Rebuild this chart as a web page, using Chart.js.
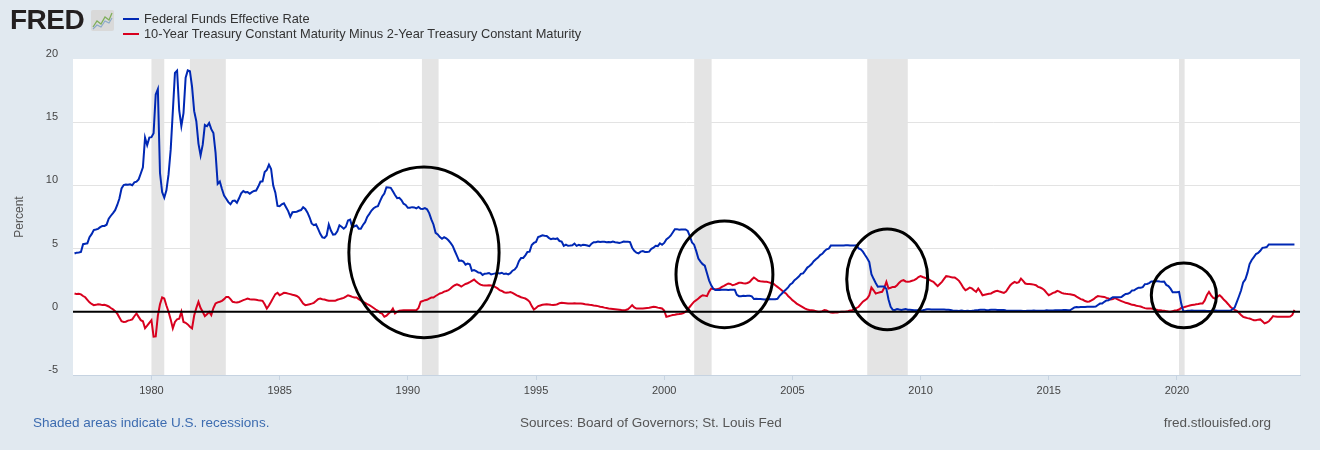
<!DOCTYPE html>
<html>
<head>
<meta charset="utf-8">
<script src="https://cdn.jsdelivr.net/npm/chart.js@4"></script>
<style>
  html, body { margin: 0; padding: 0; }
  body { width: 1320px; height: 450px; background: #e1e9f0; position: relative; overflow: hidden;
         font-family: "Liberation Sans", Arial, sans-serif; }
  #c { position: absolute; left: 0; top: 0; }
  .logo { position: absolute; left: 10px; top: 4px; font: bold 28px "Liberation Sans", Arial, sans-serif;
          color: #231f20; letter-spacing: -0.5px; }
  .icon { position: absolute; left: 91px; top: 10px; }
  .leg { position: absolute; left: 123px; font-size: 12.8px; color: #333; white-space: nowrap; }
  .leg i { display: inline-block; width: 16px; height: 2px; vertical-align: middle; margin-right: 5px; position: relative; top: -1px; }
  .foot { position: absolute; top: 415px; font-size: 13.5px; white-space: nowrap; }
</style>
</head>
<body>
<canvas id="c" width="1320" height="450"></canvas>
<div class="logo">FRED</div>
<svg class="icon" width="23" height="21" viewBox="0 0 23 21">
  <rect x="0" y="0" width="23" height="21" rx="2" fill="#d9d9d9"/>
  <polyline points="2,17 6,11 10,14 14,7 18,10 21,3" fill="none" stroke="#7fae5a" stroke-width="1.3"/>
  <polyline points="2,19 6,15 10,17 14,11 18,13 21,8" fill="none" stroke="#8aa9c9" stroke-width="1.1"/>
</svg>
<div class="leg" style="top:11px"><i style="background:#0028b4"></i>Federal Funds Effective Rate</div>
<div class="leg" style="top:26px"><i style="background:#d8001e"></i>10-Year Treasury Constant Maturity Minus 2-Year Treasury Constant Maturity</div>
<div class="foot" style="left:33px;color:#3d6cb0">Shaded areas indicate U.S. recessions.</div>
<div class="foot" style="left:520px;color:#555">Sources: Board of Governors; St. Louis Fed</div>
<div class="foot" style="right:49px;color:#555">fred.stlouisfed.org</div>
<script>
// monthly observations, January 1977 to August 2024
const startYear = 1977;

const fedFunds = [
  4.61, 4.68, 4.69, 4.73, 5.35, 5.39, 5.42, 5.90, 6.14, 6.47, 6.51, 6.56, // 1977
  6.70, 6.78, 6.79, 6.89, 7.36, 7.60, 7.81, 8.04, 8.45, 8.96, 9.76, 10.03,
  10.07, 10.06, 10.09, 10.01, 10.24, 10.29, 10.47, 10.94, 11.43, 13.77, 13.18, 13.78,
  13.82, 14.13, 17.19, 17.61, 10.98, 9.47, 9.03, 9.61, 10.87, 12.81, 15.85, 18.90, // 1980
  19.08, 15.93, 14.70, 15.72, 18.52, 19.10, 19.04, 17.82, 15.87, 15.08, 13.31, 12.37,
  13.22, 14.78, 14.68, 14.94, 14.45, 14.15, 12.59, 10.12, 10.31, 9.71, 9.20, 8.95,
  8.68, 8.51, 8.77, 8.80, 8.63, 8.98, 9.37, 9.56, 9.45, 9.48, 9.34, 9.47,
  9.56, 9.59, 9.91, 10.29, 10.32, 11.06, 11.23, 11.64, 11.30, 9.99, 9.43, 8.38,
  8.35, 8.50, 8.58, 8.27, 7.97, 7.53, 7.88, 7.90, 7.92, 7.99, 8.05, 8.27, // 1985
  8.14, 7.86, 7.48, 6.99, 6.85, 6.92, 6.56, 6.17, 5.89, 5.85, 6.04, 6.91,
  6.43, 6.10, 6.13, 6.37, 6.85, 6.73, 6.58, 6.73, 7.22, 7.29, 6.69, 6.77,
  6.83, 6.58, 6.58, 6.87, 7.09, 7.51, 7.75, 8.01, 8.19, 8.30, 8.35, 8.76,
  9.12, 9.36, 9.85, 9.84, 9.81, 9.53, 9.24, 8.99, 9.02, 8.84, 8.55, 8.45,
  8.23, 8.24, 8.28, 8.26, 8.18, 8.29, 8.15, 8.13, 8.20, 8.11, 7.81, 7.31, // 1990
  6.91, 6.25, 6.12, 5.91, 5.78, 5.90, 5.82, 5.66, 5.45, 5.21, 4.81, 4.43,
  4.03, 4.06, 3.98, 3.73, 3.82, 3.76, 3.25, 3.30, 3.22, 3.10, 3.09, 2.92,
  3.02, 3.03, 3.07, 2.96, 3.00, 3.04, 3.06, 3.03, 3.09, 2.99, 3.02, 2.96,
  3.05, 3.25, 3.34, 3.56, 4.01, 4.25, 4.26, 4.47, 4.73, 4.76, 5.29, 5.45,
  5.53, 5.92, 5.98, 6.05, 6.01, 6.00, 5.85, 5.74, 5.80, 5.76, 5.80, 5.60, // 1995
  5.56, 5.22, 5.31, 5.22, 5.24, 5.27, 5.40, 5.22, 5.30, 5.24, 5.31, 5.29,
  5.25, 5.19, 5.39, 5.51, 5.50, 5.56, 5.52, 5.54, 5.54, 5.50, 5.52, 5.50,
  5.56, 5.51, 5.49, 5.45, 5.49, 5.56, 5.54, 5.55, 5.51, 5.07, 4.83, 4.68,
  4.63, 4.76, 4.81, 4.74, 4.74, 4.76, 4.99, 5.07, 5.22, 5.20, 5.42, 5.30,
  5.45, 5.73, 5.85, 6.02, 6.27, 6.53, 6.54, 6.50, 6.52, 6.51, 6.51, 6.40, // 2000
  5.98, 5.49, 5.31, 4.80, 4.21, 3.97, 3.77, 3.65, 3.07, 2.49, 2.09, 1.82,
  1.73, 1.74, 1.73, 1.75, 1.75, 1.75, 1.73, 1.74, 1.75, 1.75, 1.34, 1.24,
  1.24, 1.26, 1.25, 1.26, 1.26, 1.22, 1.01, 1.03, 1.01, 1.01, 1.00, 0.98,
  1.00, 1.01, 1.00, 1.00, 1.00, 1.03, 1.26, 1.43, 1.61, 1.76, 1.93, 2.16,
  2.28, 2.50, 2.63, 2.79, 3.00, 3.04, 3.26, 3.50, 3.62, 3.78, 4.00, 4.16, // 2005
  4.29, 4.49, 4.59, 4.79, 4.94, 4.99, 5.24, 5.25, 5.25, 5.25, 5.25, 5.24,
  5.25, 5.26, 5.26, 5.25, 5.25, 5.25, 5.26, 5.02, 4.94, 4.76, 4.49, 4.24,
  3.94, 2.98, 2.61, 2.28, 1.98, 2.00, 2.01, 2.00, 1.81, 0.97, 0.39, 0.16,
  0.15, 0.22, 0.18, 0.15, 0.18, 0.21, 0.16, 0.16, 0.15, 0.12, 0.12, 0.12,
  0.11, 0.13, 0.16, 0.20, 0.20, 0.18, 0.18, 0.19, 0.19, 0.19, 0.19, 0.18, // 2010
  0.17, 0.16, 0.14, 0.10, 0.09, 0.09, 0.07, 0.10, 0.08, 0.07, 0.08, 0.07,
  0.08, 0.10, 0.13, 0.14, 0.16, 0.16, 0.16, 0.13, 0.14, 0.16, 0.16, 0.16,
  0.14, 0.15, 0.14, 0.15, 0.11, 0.09, 0.09, 0.08, 0.08, 0.09, 0.08, 0.09,
  0.07, 0.07, 0.08, 0.09, 0.09, 0.10, 0.09, 0.09, 0.09, 0.09, 0.09, 0.12,
  0.11, 0.11, 0.11, 0.12, 0.12, 0.13, 0.13, 0.14, 0.14, 0.12, 0.12, 0.24, // 2015
  0.34, 0.38, 0.36, 0.37, 0.37, 0.38, 0.39, 0.40, 0.40, 0.40, 0.41, 0.54,
  0.65, 0.66, 0.79, 0.90, 0.91, 1.04, 1.15, 1.16, 1.15, 1.15, 1.16, 1.30,
  1.41, 1.42, 1.51, 1.69, 1.70, 1.82, 1.91, 1.91, 1.95, 2.19, 2.20, 2.27,
  2.40, 2.40, 2.41, 2.42, 2.39, 2.38, 2.40, 2.13, 2.04, 1.83, 1.55, 1.55,
  1.55, 1.58, 0.65, 0.05, 0.05, 0.08, 0.09, 0.10, 0.09, 0.09, 0.09, 0.09, // 2020
  0.09, 0.08, 0.07, 0.07, 0.06, 0.08, 0.10, 0.09, 0.08, 0.08, 0.08, 0.08,
  0.08, 0.08, 0.20, 0.33, 0.77, 1.21, 1.68, 2.33, 2.56, 3.08, 3.78, 4.10,
  4.33, 4.57, 4.65, 4.83, 5.06, 5.08, 5.12, 5.33, 5.33, 5.33, 5.33, 5.33,
  5.33, 5.33, 5.33, 5.33, 5.33, 5.33, 5.33, 5.33
];

const spread10y2y = [
  1.45, 1.40, 1.42, 1.38, 1.25, 1.15, 0.95, 0.75, 0.62, 0.52, 0.55, 0.60, // 1977
  0.58, 0.53, 0.55, 0.50, 0.42, 0.30, 0.20, 0.05, -0.15, -0.45, -0.75, -0.80,
  -0.78, -0.70, -0.66, -0.60, -0.35, -0.13, -0.40, -0.66, -0.75, -1.30, -1.10, -0.87,
  -0.66, -1.97, -1.95, -0.30, 0.60, 1.13, 1.05, 0.50, 0.00, -0.60, -1.31, -0.80, // 1980
  -0.60, -0.55, 0.00, -0.80, -0.87, -1.00, -1.18, -1.31, -0.30, 0.30, 0.79, 0.30,
  0.00, -0.34, -0.20, 0.00, -0.26, 0.30, 0.66, 0.75, 0.80, 0.87, 1.00, 1.18,
  1.18, 1.00, 0.79, 0.75, 0.73, 0.78, 0.85, 0.92, 0.98, 1.05, 1.00, 0.97,
  0.97, 0.95, 0.92, 0.90, 0.87, 0.60, 0.26, 0.50, 0.79, 1.10, 1.40, 1.50,
  1.31, 1.40, 1.50, 1.48, 1.44, 1.40, 1.35, 1.31, 1.25, 1.13, 0.90, 0.65, // 1985
  0.53, 0.56, 0.60, 0.65, 0.71, 0.85, 1.00, 1.05, 1.00, 0.97, 0.92, 0.87,
  0.87, 0.87, 0.87, 0.95, 1.00, 1.05, 1.10, 1.20, 1.31, 1.25, 1.18, 1.13,
  1.13, 1.00, 0.90, 0.79, 0.70, 0.60, 0.53, 0.42, 0.30, 0.18, 0.08, -0.08,
  -0.15, -0.39, -0.30, -0.13, 0.00, 0.26, -0.13, 0.00, 0.08, 0.10, 0.12, 0.13,
  0.13, 0.13, 0.12, 0.13, 0.13, 0.30, 0.79, 0.85, 0.92, 0.95, 1.05, 1.13, // 1990
  1.13, 1.25, 1.35, 1.45, 1.50, 1.60, 1.65, 1.71, 1.85, 2.00, 2.10, 2.18,
  2.10, 2.00, 2.10, 2.20, 2.26, 2.35, 2.45, 2.55, 2.40, 2.26, 2.15, 2.10,
  2.08, 2.08, 2.10, 2.08, 2.05, 1.95, 1.85, 1.71, 1.65, 1.55, 1.50, 1.52,
  1.57, 1.50, 1.40, 1.30, 1.23, 1.15, 1.10, 1.05, 0.95, 0.79, 0.45, 0.18,
  0.30, 0.45, 0.50, 0.55, 0.58, 0.60, 0.58, 0.55, 0.53, 0.55, 0.60, 0.68, // 1995
  0.71, 0.70, 0.68, 0.66, 0.66, 0.66, 0.67, 0.66, 0.66, 0.66, 0.64, 0.60,
  0.58, 0.55, 0.53, 0.50, 0.48, 0.45, 0.40, 0.38, 0.33, 0.30, 0.26, 0.24,
  0.22, 0.20, 0.18, 0.16, 0.14, 0.13, 0.14, 0.20, 0.35, 0.53, 0.35, 0.26,
  0.26, 0.26, 0.26, 0.28, 0.30, 0.32, 0.36, 0.40, 0.38, 0.33, 0.30, 0.26,
  0.10, -0.39, -0.35, -0.30, -0.26, -0.24, -0.20, -0.18, -0.15, -0.10, 0.00, 0.20, // 2000
  0.40, 0.60, 0.80, 0.92, 1.05, 1.20, 1.31, 1.28, 1.24, 1.60, 1.84, 1.80,
  1.76, 1.80, 1.85, 1.97, 2.05, 2.15, 2.24, 2.20, 2.10, 2.15, 2.22, 2.30,
  2.30, 2.26, 2.24, 2.28, 2.37, 2.55, 2.71, 2.60, 2.45, 2.42, 2.40, 2.37,
  2.37, 2.33, 2.28, 2.24, 2.10, 1.97, 1.84, 1.70, 1.55, 1.45, 1.25, 1.10,
  0.92, 0.80, 0.65, 0.55, 0.45, 0.35, 0.25, 0.18, 0.15, 0.13, 0.10, 0.05, // 2005
  0.00, 0.00, 0.05, 0.13, 0.10, 0.00, -0.05, -0.08, -0.06, -0.05, -0.02, 0.00,
  0.00, 0.02, 0.05, 0.10, 0.13, 0.20, 0.30, 0.40, 0.60, 0.80, 0.92, 1.05,
  1.30, 1.92, 1.70, 1.45, 1.50, 1.55, 1.58, 1.90, 2.37, 1.84, 1.90, 1.97,
  1.97, 2.10, 2.30, 2.45, 2.50, 2.40, 2.37, 2.40, 2.45, 2.50, 2.60, 2.75,
  2.82, 2.75, 2.70, 2.63, 2.55, 2.45, 2.37, 2.20, 2.03, 2.20, 2.37, 2.60, // 2010
  2.82, 2.80, 2.75, 2.72, 2.71, 2.60, 2.45, 2.20, 1.90, 1.71, 1.80, 1.92,
  1.85, 1.70, 1.58, 1.84, 1.60, 1.31, 1.35, 1.39, 1.42, 1.45, 1.55, 1.62,
  1.66, 1.60, 1.55, 1.50, 1.60, 1.85, 2.10, 2.25, 2.37, 2.29, 2.35, 2.63,
  2.45, 2.24, 2.20, 2.20, 2.18, 2.15, 2.10, 1.97, 1.92, 1.84, 1.70, 1.50,
  1.31, 1.40, 1.50, 1.55, 1.66, 1.60, 1.50, 1.45, 1.42, 1.40, 1.39, 1.35, // 2015
  1.31, 1.20, 1.10, 1.00, 0.95, 0.85, 0.79, 0.82, 0.90, 1.00, 1.15, 1.24,
  1.22, 1.20, 1.18, 1.10, 1.05, 0.97, 1.00, 1.10, 1.00, 0.92, 0.85, 0.78,
  0.71, 0.68, 0.62, 0.55, 0.53, 0.48, 0.45, 0.42, 0.35, 0.29, 0.27, 0.26,
  0.26, 0.22, 0.18, 0.15, 0.13, 0.10, 0.08, 0.05, 0.02, 0.00, 0.05, 0.10,
  0.13, 0.18, 0.30, 0.35, 0.40, 0.45, 0.50, 0.53, 0.55, 0.60, 0.62, 0.66, // 2020
  0.66, 0.90, 1.31, 1.58, 1.30, 1.10, 1.05, 1.20, 1.31, 1.15, 0.95, 0.79,
  0.60, 0.40, 0.26, 0.15, 0.08, -0.08, -0.25, -0.40, -0.45, -0.50, -0.53, -0.60,
  -0.66, -0.66, -0.62, -0.60, -0.75, -0.92, -0.85, -0.75, -0.55, -0.34, -0.38, -0.40,
  -0.40, -0.40, -0.40, -0.40, -0.40, -0.38, -0.25, 0.15
];

// NBER recessions as [start, end] in fractional years
const recessions = [[1980.0, 1980.5], [1981.5, 1982.9], [1990.55, 1991.2],
                    [2001.17, 2001.85], [2007.92, 2009.5], [2020.08, 2020.3]];

// hand drawn ellipses: centre (year, percent) and radii (years, percent)
const circles = [
  { x: 1990.63, y: 4.70, rx: 2.93, ry: 6.75 },
  { x: 2002.35, y: 2.96, rx: 1.89, ry: 4.22 },
  { x: 2008.70, y: 2.57, rx: 1.58, ry: 3.99 },
  { x: 2020.27, y: 1.30, rx: 1.27, ry: 2.57 }
];

const yTicks = [-5, 0, 5, 10, 15, 20];

const toPoints = vals => vals.map((v, i) => ({ x: startYear + i / 12, y: v }));

const plotBackground = {
  id: 'plotBackground',
  beforeDraw(chart) {
    const { ctx, chartArea } = chart;
    ctx.save();
    ctx.fillStyle = '#ffffff';
    ctx.fillRect(chartArea.left, chartArea.top, chartArea.right - chartArea.left, chartArea.bottom - chartArea.top);
    ctx.restore();
  }
};

const recessionBars = {
  id: 'recessionBars',
  beforeDatasetsDraw(chart) {
    const { ctx, chartArea, scales: { x } } = chart;
    ctx.save();
    ctx.fillStyle = '#e4e4e4';
    recessions.forEach(([a, b]) => {
      const x0 = x.getPixelForValue(a), x1 = x.getPixelForValue(b);
      ctx.fillRect(x0, chartArea.top, x1 - x0, chartArea.bottom - chartArea.top);
    });
    ctx.restore();
  }
};

const overlay = {
  id: 'overlay',
  afterDatasetsDraw(chart) {
    const { ctx, chartArea, scales: { x, y } } = chart;
    ctx.save();
    // zero line
    const y0 = y.getPixelForValue(0);
    ctx.strokeStyle = '#000';
    ctx.lineWidth = 2;
    ctx.beginPath();
    ctx.moveTo(chartArea.left, y0);
    ctx.lineTo(chartArea.right, y0);
    ctx.stroke();
    // ellipses
    ctx.lineWidth = 3;
    circles.forEach(c => {
      const cx = x.getPixelForValue(c.x), cy = y.getPixelForValue(c.y);
      const rx = x.getPixelForValue(c.x + c.rx) - cx;
      const ry = cy - y.getPixelForValue(c.y + c.ry);
      ctx.beginPath();
      ctx.ellipse(cx, cy, rx, ry, 0, 0, Math.PI * 2);
      ctx.stroke();
    });
    ctx.restore();
  }
};

new Chart(document.getElementById('c'), {
  type: 'line',
  data: {
    datasets: [
      { label: 'Federal Funds Effective Rate', data: toPoints(fedFunds), borderColor: '#0028b4' },
      { label: '10-Year Treasury Constant Maturity Minus 2-Year Treasury Constant Maturity', data: toPoints(spread10y2y), borderColor: '#d8001e' }
    ]
  },
  options: {
    responsive: false,
    animation: false,
    devicePixelRatio: 1,
    layout: { padding: { left: 10, right: 20, top: 59, bottom: 50 } },
    elements: { point: { radius: 0 }, line: { borderWidth: 2, tension: 0 } },
    plugins: { legend: { display: false }, tooltip: { enabled: false } },
    scales: {
      x: {
        type: 'linear',
        min: 1976.94,
        max: 2024.8,
        afterFit: s => { s.height = 25; },
        ticks: { stepSize: 5, includeBounds: false, padding: 4, color: '#444',
                 font: { family: 'Liberation Sans', size: 11 }, callback: v => String(v), maxRotation: 0 },
        grid: { drawOnChartArea: false, drawTicks: true, tickLength: 5, color: '#c6d3e1' },
        border: { color: '#c6d3e1' }
      },
      y: {
        min: -5,
        max: 20,
        afterFit: s => { s.width = 63; },
        afterBuildTicks: s => { s.ticks = yTicks.map(v => ({ value: v })); },
        ticks: { padding: 15, labelOffset: -5, color: '#444', font: { family: 'Liberation Sans', size: 11 } },
        grid: { drawTicks: false, color: c => (c.tick && (c.tick.value === 5 || c.tick.value === 10 || c.tick.value === 15)) ? '#e3e3e3' : 'rgba(0,0,0,0)' },
        border: { display: false },
        title: { display: true, text: 'Percent', color: '#555', padding: { top: 2, bottom: 0 },
                 font: { family: 'Liberation Sans', size: 12 } }
      }
    }
  },
  plugins: [plotBackground, recessionBars, overlay]
});
</script>
</body>
</html>
